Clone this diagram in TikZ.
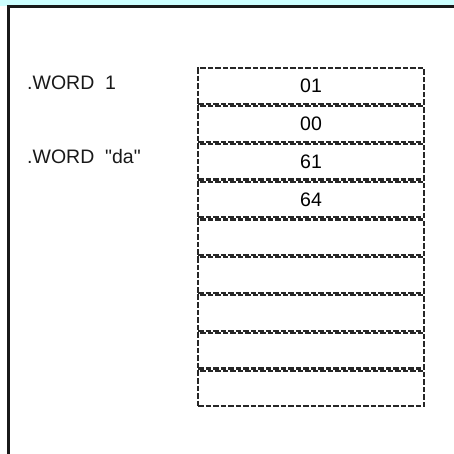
\documentclass[tikz,border=0pt]{standalone}
\usepackage{fontspec}
\setmainfont{Liberation Sans}
\newfontfamily\asmfont{Liberation Sans}
\usepackage{xcolor}
\usepackage{tikz}
\usetikzlibrary{positioning}
\definecolor{topband}{HTML}{CCFFFF}

\begin{document}
\begin{tikzpicture}[x=1pt,y=1pt,node distance=0pt,
  cell/.style={draw=black!85,dashed,dash pattern=on 5.5pt off 2pt,line width=2.2pt,minimum width=226pt,minimum height=35.6pt,inner sep=0pt,font=\fontsize{19.5}{21}\selectfont},
  lbl/.style={anchor=west,inner sep=0pt,font=\asmfont\fontsize{19.5}{21}\selectfont,text=black!90}]
  \useasboundingbox (0,0) rectangle (454,-453);
  \clip (0,0) rectangle (454,-453);
  \fill[topband] (0,0) rectangle (454,-5.5);
  \draw[line width=2.2pt,black!90] (8.5,-470) |- (470,-6.5);
  % memory cells
  \node[cell] (c1) at (311,-86) {01};
  \node[cell,below=of c1] (c2) {00};
  \node[cell,below=of c2] (c3) {61};
  \node[cell,below=of c3] (c4) {64};
  \node[cell,below=of c4] (c5) {};
  \node[cell,below=of c5] (c6) {};
  \node[cell,below=of c6] (c7) {};
  \node[cell,below=of c7] (c8) {};
  \node[cell,below=of c8] (c9) {};
  % directives
  \node[lbl] (w1) at (27,-83) {.WORD\ \ 1};
  \node[lbl] (w2) at (27,-157) {.WORD\ \ "da"};
\end{tikzpicture}
\end{document}
